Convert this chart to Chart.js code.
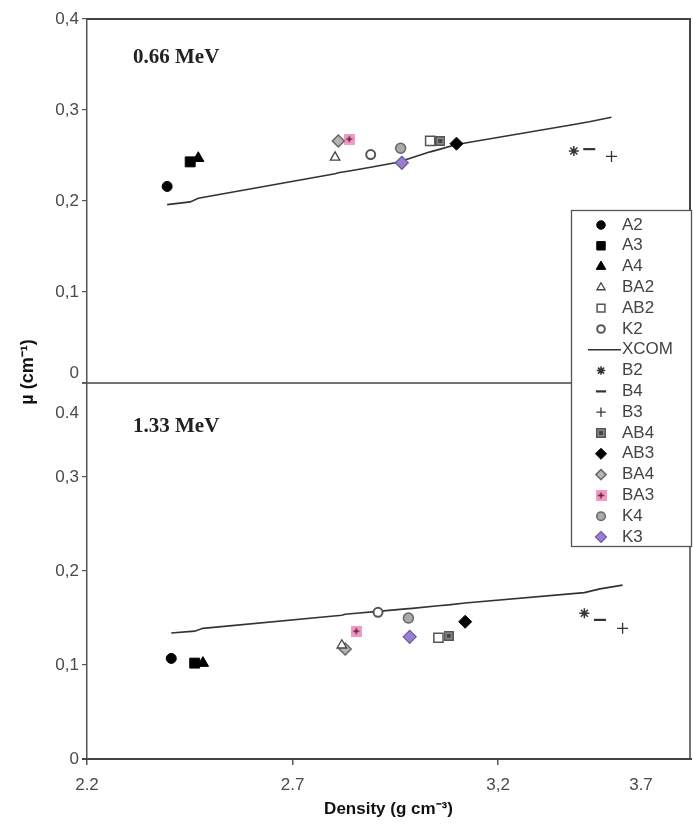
<!DOCTYPE html>
<html><head><meta charset="utf-8">
<script src="https://cdn.jsdelivr.net/npm/chart.js@4.4.1/dist/chart.umd.min.js"></script>
<style>
html,body{margin:0;padding:0;background:#fff;width:693px;height:827px;overflow:hidden}
canvas{position:absolute;left:0;top:0}
</style></head><body>
<canvas id="cTop" width="693" height="827"></canvas>
<canvas id="cBot" width="693" height="827"></canvas>
<script>
// ---- data ----
const samples = ['A2','A3','A4','BA2','AB2','K2','B2','B4','B3','AB4','AB3','BA4','BA3','K4','K3'];
const density = [2.405,2.462,2.482,2.820,3.055,2.908,3.410,3.448,3.503,3.080,3.120,2.828,2.855,2.982,2.985];
const mu066 = [0.216,0.243,0.247,0.248,0.266,0.251,0.255,0.257,0.249,0.266,0.263,0.266,0.268,0.258,0.242];
const mu133 = [0.107,0.102,0.102,0.121,0.129,0.156,0.155,0.148,0.139,0.131,0.146,0.117,0.136,0.150,0.130];
const xcomDensity = [2.405,2.462,2.482,2.820,2.828,2.855,2.908,2.982,2.985,3.055,3.080,3.120,3.410,3.448,3.503];
const xcom066 = [0.196,0.199,0.203,0.230,0.231,0.233,0.237,0.243,0.244,0.254,0.257,0.262,0.284,0.287,0.292];
const xcom133 = [0.134,0.136,0.139,0.153,0.154,0.155,0.157,0.160,0.160,0.163,0.164,0.166,0.177,0.181,0.185];
const legendOrder = ['A2','A3','A4','BA2','AB2','K2','XCOM','B2','B4','B3','AB4','AB3','BA4','BA3','K4','K3'];
const yTickValues = [0,0.1,0.2,0.3,0.4];
const yTicks066 = ['0','0,1','0,2','0,3','0,4'];
const yTicks133 = ['0','0,1','0,2','0,3','0.4'];
const xTickValues = [2.2,2.7,3.2,3.7];
const xTickLabels = ['2.2','2.7','3,2','3.7'];
const panelTitles = ['0.66 MeV','1.33 MeV'];
const xTitle = 'Density (g cm\u207B\u00B3)';
const yTitle = '\u00B5 (cm\u207B\u00B9)';

// ---- styles ----
const SANS = "'Liberation Sans', Arial, sans-serif";
Chart.defaults.font.family = SANS;
Chart.defaults.color = '#4a4a4a';
const AXIS = '#555';
function mkImg(w,h,draw){const c=document.createElement('canvas');c.width=w;c.height=h;draw(c.getContext('2d'));return c;}
const ba3Img = mkImg(11,11,ctx=>{ctx.fillStyle='#f29ac6';ctx.fillRect(0,0,11,11);ctx.strokeStyle='#5a2040';ctx.lineWidth=1.5;ctx.beginPath();ctx.moveTo(5.5,2.5);ctx.lineTo(5.5,8.5);ctx.moveTo(2.5,5.5);ctx.lineTo(8.5,5.5);ctx.stroke();});
const ab4Img = mkImg(10,10,ctx=>{ctx.fillStyle='#8c8c8c';ctx.fillRect(0,0,10,10);ctx.strokeStyle='#555';ctx.lineWidth=1.5;ctx.strokeRect(0.75,0.75,8.5,8.5);ctx.fillStyle='#444';ctx.fillRect(3,3,4,4);});
const styles = {
  A2:{ps:'circle',r:5,bg:'#000',bc:'#000',bw:1},
  A3:{ps:'rect',r:7,bg:'#000',bc:'#000',bw:1},
  A4:{ps:'triangle',r:6.5,bg:'#000',bc:'#000',bw:1},
  BA2:{ps:'triangle',r:5.5,bg:'#fff',bc:'#444',bw:1.3},
  AB2:{ps:'rect',r:6.5,bg:'#fff',bc:'#555',bw:1.5},
  K2:{ps:'circle',r:4.5,bg:'#fff',bc:'#555',bw:2},
  B2:{ps:'star',r:5,bg:'#333',bc:'#333',bw:1.5},
  B4:{ps:'line',r:6,bg:'#333',bc:'#333',bw:2.2},
  B3:{ps:'cross',r:5.5,bg:'#333',bc:'#333',bw:1.3},
  AB4:{ps:ab4Img,r:5,bg:'#8c8c8c',bc:'#555',bw:1},
  AB3:{ps:'rectRot',r:6.5,bg:'#000',bc:'#000',bw:1},
  BA4:{ps:'rectRot',r:6,bg:'#b5b5b5',bc:'#666',bw:1.5},
  BA3:{ps:ba3Img,r:5,bg:'#f29ac6',bc:'#5a2040',bw:1},
  K4:{ps:'circle',r:5,bg:'#aaa',bc:'#666',bw:1.5},
  K3:{ps:'rectRot',r:6.5,bg:'#9a7fd0',bc:'#6d5a9e',bw:1.2}
};

function makeDatasets(mu, xcom){
  const ds = samples.map((s,i)=>{
    const st = styles[s];
    return {label:s, data:[{x:density[i], y:mu[i]}], showLine:false,
      pointStyle:st.ps, pointRadius:st.r, pointHoverRadius:st.r,
      pointBackgroundColor:st.bg, pointBorderColor:st.bc, pointBorderWidth:st.bw, order:1};
  });
  ds.push({label:'XCOM', data:xcomDensity.map((d,i)=>({x:d,y:xcom[i]})), showLine:true,
    pointRadius:0, borderColor:'#333', borderWidth:1.6, order:2});
  return ds;
}

function yScale(labels, hideVal){
  return {type:'linear', min:0, max:0.4,
    afterBuildTicks:s=>{s.ticks = yTickValues.map(v=>({value:v}));},
    ticks:{font:{size:17}, color:'#4a4a4a', padding:3,
      callback:(v,i)=> (Math.abs(v-hideVal)<1e-9 ? '' : labels[i])},
    grid:{drawOnChartArea:false, drawTicks:true, tickLength:5, color:AXIS, lineWidth:1.2},
    border:{display:true, color:AXIS, width:1.5},
    afterFit:s=>{s.width = 87;}};
}

const commonOpts = {responsive:false, animation:false, devicePixelRatio:1,
  plugins:{legend:{display:false}, tooltip:{enabled:false}}, events:[]};

// ---- top panel ----
const topPlugin = {id:'topDeco', afterDraw(chart){
  const ctx=chart.ctx, a=chart.chartArea, ys=chart.scales.y;
  ctx.save();
  ctx.strokeStyle='#444'; ctx.lineWidth=2;
  ctx.beginPath(); ctx.moveTo(a.left,a.top); ctx.lineTo(a.right,a.top); ctx.lineTo(a.right,a.bottom); ctx.stroke();
  ctx.lineWidth=1.5; ctx.beginPath(); ctx.moveTo(a.left-5,a.bottom); ctx.lineTo(a.right,a.bottom); ctx.stroke();
  ctx.fillStyle='#222'; ctx.font="bold 21px 'Liberation Serif', 'Times New Roman', serif";
  ctx.textBaseline='middle'; ctx.textAlign='left';
  ctx.fillText(panelTitles[0], a.left+46, a.top+39);
  ctx.font="17px "+SANS; ctx.fillStyle='#4a4a4a'; ctx.textAlign='right';
  ctx.fillText(yTicks066[0], a.left-8, ys.getPixelForValue(0)-10);
  ctx.translate(28,372); ctx.rotate(-Math.PI/2); ctx.textAlign='center';
  ctx.font="bold 18px "+SANS; ctx.fillStyle='#111'; ctx.fillText(yTitle,0,0);
  ctx.restore();
}};
new Chart(document.getElementById('cTop'), {
  type:'scatter',
  data:{datasets:makeDatasets(mu066, xcom066)},
  options:Object.assign({}, commonOpts, {
    layout:{autoPadding:false, padding:{left:0,right:3,top:19,bottom:444}},
    scales:{
      x:{type:'linear', min:2.207, max:3.697, display:false},
      y:yScale(yTicks066, 0)
    }}),
  plugins:[topPlugin]
});

// ---- bottom panel ----
const botPlugin = {id:'botDeco', afterDraw(chart){
  const ctx=chart.ctx, a=chart.chartArea, ys=chart.scales.y, xs=chart.scales.x;
  ctx.save();
  ctx.strokeStyle='#444'; ctx.lineWidth=1.5;
  ctx.beginPath(); ctx.moveTo(a.right,a.top); ctx.lineTo(a.right,a.bottom); ctx.stroke();
  ctx.lineWidth=2; ctx.beginPath(); ctx.moveTo(a.left-5,a.bottom); ctx.lineTo(a.right+2,a.bottom); ctx.stroke();
  ctx.fillStyle='#222'; ctx.font="bold 21px 'Liberation Serif', 'Times New Roman', serif";
  ctx.textBaseline='middle'; ctx.textAlign='left';
  ctx.fillText(panelTitles[1], a.left+46, a.top+44);
  ctx.font="17px "+SANS; ctx.fillStyle='#4a4a4a'; ctx.textAlign='right';
  ctx.fillText(yTicks133[4], a.left-8, ys.getPixelForValue(0.4)+30);
  // last x tick label (outside the visible range in the reference crop)
  ctx.textAlign='center';
  xTickValues.forEach((v,i)=>{ if(v>xs.max){ ctx.fillText(xTickLabels[i], a.right-49, xs.top+6+10+10.2); } });
  // legend
  const L=571,T=210,W=121,H=337;
  ctx.fillStyle='#fff'; ctx.fillRect(L,T,W,H);
  ctx.strokeStyle='#555'; ctx.lineWidth=1.3; ctx.strokeRect(L+0.5,T+0.5,W-1,H-1);
  ctx.font="17px "+SANS; ctx.textBaseline='middle'; ctx.textAlign='left';
  legendOrder.forEach((name,i)=>{
    const y=T+15+i*20.8;
    if(name==='XCOM'){
      ctx.strokeStyle='#333'; ctx.lineWidth=1.6; ctx.beginPath(); ctx.moveTo(588,y); ctx.lineTo(621,y); ctx.stroke();
    } else {
      const st=styles[name];
      ctx.fillStyle=st.bg; ctx.strokeStyle=st.bc; ctx.lineWidth=st.bw;
      Chart.helpers.drawPoint(ctx,{pointStyle:st.ps, radius:st.r*0.85, borderWidth:st.bw, rotation:0}, 601, y);
    }
    ctx.fillStyle='#444'; ctx.fillText(name, 622, y);
  });
  ctx.restore();
}};
new Chart(document.getElementById('cBot'), {
  type:'scatter',
  data:{datasets:makeDatasets(mu133, xcom133)},
  options:Object.assign({}, commonOpts, {
    layout:{autoPadding:false, padding:{left:0,right:3,top:383,bottom:0}},
    scales:{
      x:{type:'linear', min:2.2, max:3.667,
        afterBuildTicks:s=>{s.ticks = xTickValues.filter(v=>v<=s.max).map(v=>({value:v}));},
        ticks:{font:{size:17}, color:'#4a4a4a', padding:10, maxRotation:0, autoSkip:false,
          callback:(v)=>xTickLabels[xTickValues.findIndex(t=>Math.abs(t-v)<1e-6)]},
        grid:{drawOnChartArea:false, drawTicks:true, tickLength:6, color:AXIS, lineWidth:1.5},
        border:{display:true, color:'#444', width:2},
        title:{display:true, text:xTitle, font:{size:17, weight:'bold'}, color:'#111', padding:{top:2,bottom:7}},
        afterFit:s=>{s.height = 68;}},
      y:yScale(yTicks133, 0.4)
    }}),
  plugins:[botPlugin]
});
</script>
</body></html>
